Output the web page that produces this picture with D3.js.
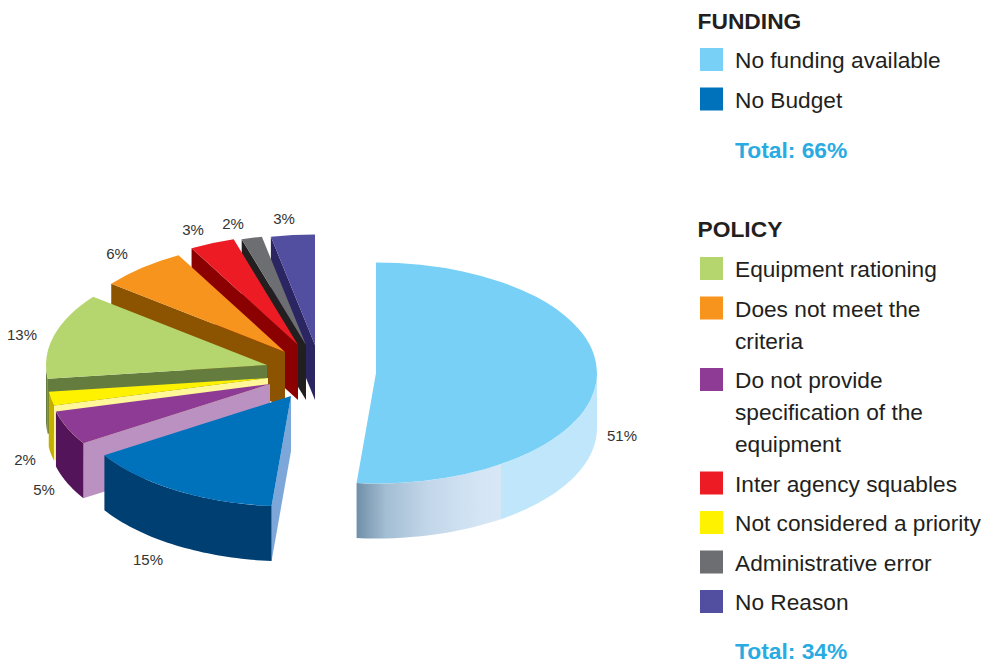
<!DOCTYPE html>
<html>
<head>
<meta charset="utf-8">
<script src="https://cdn.jsdelivr.net/npm/d3@7"></script>
<style>
  html, body { margin: 0; padding: 0; background: #fff; overflow: hidden; }
  text { font-family: "Liberation Sans", Arial, sans-serif; }
</style>
</head>
<body>
<div id="chart"></div>
<script>
// slice values, clockwise from 12 o'clock
const sliceNames = ["No funding available", "No Budget", "Do not provide", "Not considered a priority",
  "Equipment rationing", "Does not meet the criteria", "Inter agency squables", "Administrative error", "No Reason"];
const sliceValues = [51.4, 14.6, 5, 2, 12.6, 6.4, 3.3, 1.5, 3.2];
const topColors  = ["#78d0f6", "#0072bc", "#8e3b96", "#fff200", "#b5d56f", "#f7941d", "#ed1c24", "#6d6e71", "#524fa1"];
const edgeColors = ["#78d0f6", "#7da7d9", "#bb91c2", "#fff799", "#647c3e", "#8c5400", "#8b0000", "#231f20", "#2b2561"];
const rimColors  = ["url(#rimGrad)", "#003f72", "#53145a", "#c4ae00", "#647c3e", "#8c5400", "#8b0000", "#231f20", "#2b2561"];
// how far each slice is pulled out of the centre
const sliceOffsets = [[58, 0], [-27, 23], [-48, 11], [-50, 5], [-51, -8], [-33, -21], [-20, -28], [-12, -28], [-3, -28]];
const labelAnchors = [[622, 441], [148, 565], [44, 495], [25, 465], [22, 340], [117, 259], [193, 235], [233, 229], [284, 224]];

const fundingItems = [["No funding available"], ["No Budget"]];
const fundingColors = ["#78d0f6", "#0072bc"];
const policyItems = [["Equipment rationing"], ["Does not meet the", "criteria"],
  ["Do not provide", "specification of the", "equipment"], ["Inter agency squables"],
  ["Not considered a priority"], ["Administrative error"], ["No Reason"]];
const policyColors = ["#b5d56f", "#f7941d", "#8e3b96", "#ed1c24", "#fff200", "#6d6e71", "#524fa1"];

const W = 983, H = 663;
const cx = 318, cy = 373, rx = 221, tilt = 0.5, depth = 55;

const svg = d3.select("#chart").append("svg")
  .attr("width", W).attr("height", H);

// side of the big slice goes dark toward the cut edge
const grad = svg.append("defs").append("linearGradient").attr("id", "rimGrad");
[[0, "#6f8fa8"], [0.12, "#a3bdd2"], [0.3, "#c3d7ea"], [0.5, "#d3e4f4"], [0.6, "#d7e7f6"], [0.6, "#bfe6fa"], [1, "#bfe6fa"]]
  .forEach(s => grad.append("stop").attr("offset", s[0]).attr("stop-color", s[1]));

const pie = d3.pie().sort(null).value(d => d)(sliceValues);
const arc = d3.arc().innerRadius(0).outerRadius(rx);

// screen position of a point at angle a (0 = up, clockwise), radius r
const px = (a, r) => Math.sin(a) * r;
const py = (a, r) => -Math.cos(a) * r * tilt;

const line = d3.line();
const rimArea = d3.area()
  .x(a => px(a, rx))
  .y0(a => py(a, rx))
  .y1(a => py(a, rx) + depth);

const slices = pie.map((d, i) => ({
  ...d, i,
  ox: cx + sliceOffsets[i][0],
  oy: cy + sliceOffsets[i][1]
}));

// back slices first, the big one and the blue one come last
const drawOrder = [8, 7, 6, 5, 4, 3, 2, 0, 1];

const g = svg.append("g");
drawOrder.forEach(i => {
  const d = slices[i];
  const sg = g.append("g").attr("transform", `translate(${d.ox},${d.oy})`);

  // cut face on the start edge
  if (i > 0) {
    const a = d.startAngle;
    sg.append("path")
      .attr("d", line([[0, 0], [px(a, rx), py(a, rx)], [px(a, rx), py(a, rx) + depth], [0, depth]]) + "Z")
      .attr("fill", edgeColors[i]);
  }

  // outer wall, only the part that faces the viewer
  const a0 = Math.max(d.startAngle, Math.PI / 2);
  const a1 = Math.min(d.endAngle, Math.PI * 1.5);
  if (a1 > a0) {
    const n = 40;
    const angles = d3.range(n + 1).map(k => a0 + (a1 - a0) * k / n);
    sg.append("path").attr("d", rimArea(angles)).attr("fill", rimColors[i]);
  }

  // top
  sg.append("path")
    .attr("transform", `scale(1,${tilt})`)
    .attr("d", arc(d))
    .attr("fill", topColors[i]);
});

// percent labels
svg.append("g").selectAll("text")
  .data(slices)
  .join("text")
  .attr("x", d => labelAnchors[d.i][0])
  .attr("y", d => labelAnchors[d.i][1])
  .attr("text-anchor", "middle")
  .attr("font-size", 15)
  .attr("fill", "#333")
  .text(d => Math.round(d.value) + "%");

// legend
const legend = svg.append("g");
function drawGroup(title, items, colors, total, titleY, firstY, totalY) {
  legend.append("text").attr("x", 697.5).attr("y", titleY)
    .attr("font-size", 22.8).attr("font-weight", "bold").attr("fill", "#231f20").text(title);
  let y = firstY;
  items.forEach((lines, i) => {
    legend.append("rect").attr("x", 700).attr("y", y - 20).attr("width", 23).attr("height", 23)
      .attr("fill", colors[i]);
    lines.forEach((t, k) => {
      legend.append("text").attr("x", 735).attr("y", y + k * 32)
        .attr("font-size", 22.7).attr("fill", "#231f20").text(t);
    });
    y += (lines.length - 1) * 32 + 39.5;
  });
  legend.append("text").attr("x", 735).attr("y", totalY)
    .attr("font-size", 22.8).attr("font-weight", "bold").attr("fill", "#29abe2").text(total);
}
drawGroup("FUNDING", fundingItems, fundingColors, "Total: 66%", 29, 68, 158);
drawGroup("POLICY", policyItems, policyColors, "Total: 34%", 237, 277, 659);
</script>
</body>
</html>
